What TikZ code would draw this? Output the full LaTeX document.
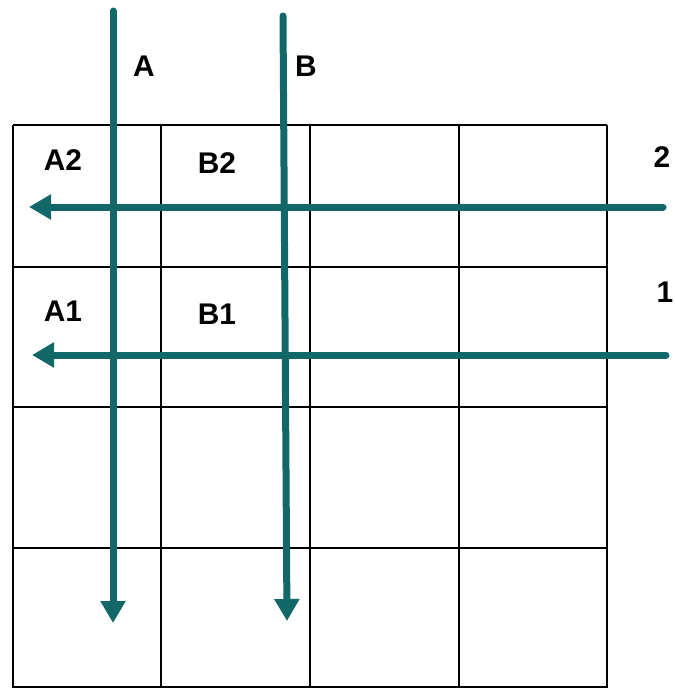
\documentclass[tikz,border=0pt]{standalone}
\usepackage{fontspec}
\setmainfont{Liberation Sans}
\usepackage{xcolor}
\usepackage{tikz}
\usetikzlibrary{arrows.meta, positioning}

\definecolor{teal}{RGB}{18,104,104}

\tikzset{
  scan/.style={draw=teal, line width=7bp, line cap=round, -{Triangle[width=24bp, length=22bp]}},
  cellline/.style={draw=black, line width=1.3bp},
  lbl/.style={font=\bfseries\fontsize{30}{32}\selectfont, inner sep=0pt}
}

\begin{document}
\begin{tikzpicture}[x=1bp, y=-1bp]

\useasboundingbox (0,0) rectangle (675,688);

% Grid lines
\foreach \gx in {13,161,310,459,607} {
  \draw[cellline] (\gx,125) -- (\gx,688);
}
\foreach \gy in {125,267,407,548,687} {
  \draw[cellline] (13,\gy) -- (607,\gy);
}

% Cell labels
\node[lbl] (a2) at (63,160) {A2};
\node[lbl] (b2) at (217,163) {B2};
\node[lbl] (a1) at (63,311) {A1};
\node[lbl] (b1) at (217,314) {B1};

% Line labels
\node[lbl] (la) at (144,66) {A};
\node[lbl] (lb) at (306,66) {B};
\node[lbl] (l2) at (662,157) {2};
\node[lbl] (l1) at (665,292) {1};

% End points of the scan lines
\coordinate (atop) at (113,11);
\coordinate (abot) at (113,623);
\coordinate (btop) at (283,16);
\coordinate (bbot) at (287,621);
\coordinate (twoR) at (663,207);
\coordinate (twoL) at (29,207);
\coordinate (oneR) at (666,355);
\coordinate (oneL) at (32,355);

% Scan lines
\draw[scan] (atop) -- (abot);
\draw[scan] (btop) -- (bbot);
\draw[scan] (twoR) -- (twoL);
\draw[scan] (oneR) -- (oneL);

\end{tikzpicture}
\end{document}
